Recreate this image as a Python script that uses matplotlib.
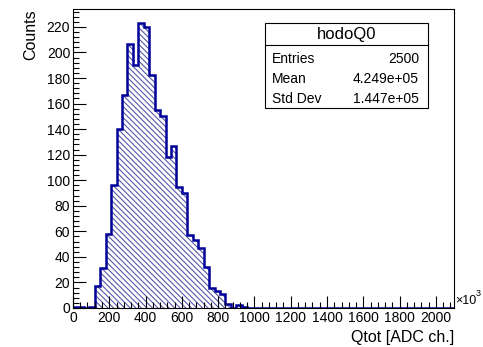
import numpy as np
import matplotlib
matplotlib.use("Agg")
import matplotlib.pyplot as plt
from matplotlib.ticker import MultipleLocator

# histogram contents (x in units of 10^3 ADC ch.)
bin_width = 30
counts = [1, 1, 0, 1,
          17, 31, 58, 96, 140, 167, 207, 190, 223, 220,
          182, 155, 150, 118, 127, 95, 90, 57, 53, 47,
          32, 16, 13, 11, 3, 0, 2, 1] + [0] * 38
stat_labels = ["Entries", "Mean", "Std Dev"]
stat_values = ["2500", "4.249e+05", "1.447e+05"]
hist_name = "hodoQ0"

plt.rcParams['font.family'] = ['Liberation Sans', 'DejaVu Sans']
plt.rcParams['hatch.linewidth'] = 0.8

edges = np.arange(len(counts) + 1) * bin_width
line_col = '#000099'

fig = plt.figure(figsize=(4.83, 3.47), dpi=100)
ax = fig.add_axes([0.1511, 0.1124, 0.7889, 0.8616])

# hatched fill, then the outline on top
ax.stairs(counts, edges, fill=True, facecolor='none', edgecolor='#5858a8',
          hatch='\\' * 6, linewidth=0)
ax.stairs(counts, edges, color=line_col, linewidth=1.8, baseline=0)

ax.set_xlim(0, edges[-1])
ax.set_ylim(0, 234)

ax.xaxis.set_major_locator(MultipleLocator(200))
ax.xaxis.set_minor_locator(MultipleLocator(40))
ax.yaxis.set_major_locator(MultipleLocator(20))
ax.yaxis.set_minor_locator(MultipleLocator(4))
ax.tick_params(which='both', direction='in', top=False, right=False,
               labelsize=10, width=0.8)
ax.tick_params(which='major', length=9, pad=2)
ax.tick_params(which='minor', length=4.5)
for sp in ax.spines.values():
    sp.set_linewidth(0.8)

ax.set_xlabel("Qtot [ADC ch.]", fontsize=11.5, loc='right', labelpad=4)
ax.set_ylabel("Counts", fontsize=11.5, loc='top', labelpad=6)
ax.text(1.002, 0.025, "×10", transform=ax.transAxes,
        fontsize=9, ha='left', va='center')
ax.text(1.057, 0.047, "3", transform=ax.transAxes,
        fontsize=6.5, ha='left', va='center')

# stats box
bx0, bx1, by0, by1, ysep = 0.504, 0.932, 0.669, 0.953, 0.880
ax.add_patch(plt.Rectangle((bx0, by0), bx1 - bx0, by1 - by0, transform=ax.transAxes,
                           facecolor='white', edgecolor='black', linewidth=0.8,
                           zorder=5))
ax.plot([bx0, bx1], [ysep, ysep], transform=ax.transAxes, color='black',
        linewidth=0.8, zorder=6)
ax.text((bx0 + bx1) / 2, 0.916, hist_name, transform=ax.transAxes,
        fontsize=12, ha='center', va='center', zorder=7)
row_y = [0.833, 0.766, 0.699]
for lab, val, yy in zip(stat_labels, stat_values, row_y):
    ax.text(0.522, yy, lab, transform=ax.transAxes, fontsize=10,
            ha='left', va='center', zorder=7)
    ax.text(0.908, yy, val, transform=ax.transAxes, fontsize=10,
            ha='right', va='center', zorder=7)

fig.savefig("out.png", dpi=100)
